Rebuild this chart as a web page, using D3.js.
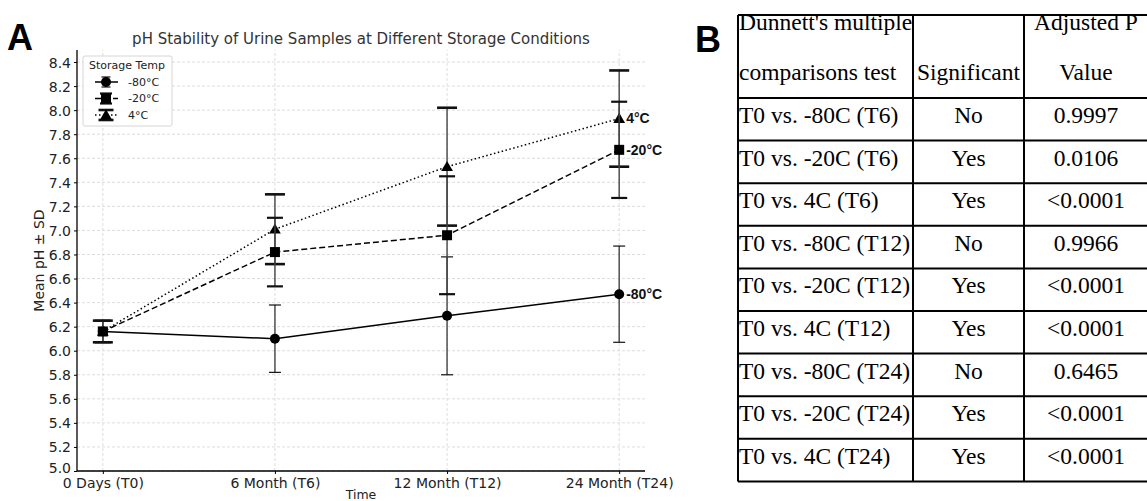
<!DOCTYPE html>
<html>
<head>
<meta charset="utf-8">
<script src="https://cdn.jsdelivr.net/npm/d3@7"></script>
<style>
  body { margin: 0; background: #fff; }
  svg { display: block; }
</style>
</head>
<body>
<svg id="vis" width="1147" height="501"></svg>
<script>
// Data
const timeLabels = ['0 Days (T0)', '6 Month (T6)', '12 Month (T12)', '24 Month (T24)']
const seriesNames = ['-80°C', '-20°C', '4°C']
const meanM80 = [6.16, 6.10, 6.29, 6.47]
const sdM80 = [0.09, 0.28, 0.49, 0.40]
const meanM20 = [6.16, 6.82, 6.96, 7.67]
const sdM20 = [0.09, 0.285, 0.49, 0.40]
const mean4C = [6.16, 7.01, 7.53, 7.93]
const sd4C = [0.09, 0.29, 0.49, 0.40]
const yTicks = [5.0, 5.2, 5.4, 5.6, 5.8, 6.0, 6.2, 6.4, 6.6, 6.8, 7.0, 7.2, 7.4, 7.6, 7.8, 8.0, 8.2, 8.4]

const tableHeader = [["Dunnett's multiple", 'comparisons test'], ['', 'Significant'], ['Adjusted P', 'Value']]
const tableComparisons = ['T0 vs. -80C (T6)', 'T0 vs. -20C (T6)', 'T0 vs. 4C (T6)', 'T0 vs. -80C (T12)', 'T0 vs. -20C (T12)', 'T0 vs. 4C (T12)', 'T0 vs. -80C (T24)', 'T0 vs. -20C (T24)', 'T0 vs. 4C (T24)']
const tableSignificant = ['No', 'Yes', 'Yes', 'No', 'Yes', 'Yes', 'No', 'Yes', 'Yes']
const tablePValues = ['0.9997', '0.0106', '<0.0001', '0.9966', '<0.0001', '<0.0001', '0.6465', '<0.0001', '<0.0001']

const svg = d3.select('#vis')
const sans = 'DejaVu Sans, sans-serif'

// Styles per series
const seriesStyle = {
    '-80°C': { mean: meanM80, sd: sdM80, dash: null, marker: 'circle', cap: 6, capW: 1.2 },
    '-20°C': { mean: meanM20, sd: sdM20, dash: '6,3', marker: 'square', cap: 8, capW: 2.2 },
    '4°C': { mean: mean4C, sd: sd4C, dash: '1.5,2.5', marker: 'triangle', cap: 10, capW: 2.6 }
}

// Scales
const x = d3.scaleLinear().domain([-0.15, 3.15]).range([77, 645])
const y = d3.scaleLinear().domain([5.0, 8.5]).range([471, 50])

// Grid
const grid = svg.append('g')
grid.selectAll('.hg').data(yTicks).enter().append('line')
    .attr('x1', x(-0.15)).attr('x2', x(3.15))
    .attr('y1', d => y(d)).attr('y2', d => y(d))
    .attr('stroke', '#d4d4d4').attr('stroke-width', 0.8).attr('stroke-dasharray', '3,2')
grid.selectAll('.vg').data(timeLabels).enter().append('line')
    .attr('x1', (d, i) => x(i)).attr('x2', (d, i) => x(i))
    .attr('y1', y(5.0)).attr('y2', y(8.5))
    .attr('stroke', '#d4d4d4').attr('stroke-width', 0.8).attr('stroke-dasharray', '3,2')

// Axes
const yAxis = svg.append('g').attr('transform', `translate(${x(-0.15)},0)`)
    .call(d3.axisLeft(y).tickValues(yTicks).tickFormat(d3.format('.1f')).tickSize(3).tickPadding(3))
const xAxis = svg.append('g').attr('transform', `translate(0,${y(5.0)})`)
    .call(d3.axisBottom(x).tickValues([0, 1, 2, 3]).tickFormat(i => timeLabels[i]).tickSize(3).tickPadding(4))
yAxis.select('.domain').attr('d', `M0,${y(8.5)}V${y(5.0)}`).attr('stroke-width', 1.3)
xAxis.select('.domain').attr('d', `M${x(-0.15)},0H${x(3.15)}`).attr('stroke-width', 1.3)
yAxis.attr('font-size', null).attr('font-family', null)
xAxis.attr('font-size', null).attr('font-family', null)
svg.selectAll('.tick text').style('font-family', sans).style('font-size', '14px').attr('fill', '#222')
yAxis.selectAll('.tick text').attr('dy', d => d === 5.0 ? '0.1em' : '0.36em')

// Labels
svg.append('text').attr('x', 361).attr('y', 44).attr('text-anchor', 'middle')
    .attr('font-family', sans).attr('font-size', 15).attr('fill', '#333')
    .text('pH Stability of Urine Samples at Different Storage Conditions')
svg.append('text').attr('x', 361).attr('y', 499).attr('text-anchor', 'middle')
    .attr('font-family', sans).attr('font-size', 12.5).attr('fill', '#222').text('Time')
svg.append('text').attr('transform', `translate(44,${(y(5.0) + y(8.5)) / 2}) rotate(-90)`)
    .attr('text-anchor', 'middle').attr('font-family', sans).attr('font-size', 14).attr('fill', '#222')
    .text('Mean pH ± SD')
svg.append('text').attr('x', 7).attr('y', 50).attr('font-family', 'Liberation Sans, Arial, sans-serif')
    .attr('font-weight', 'bold').attr('font-size', 36).text('A')
svg.append('text').attr('x', 695).attr('y', 52).attr('font-family', 'Liberation Sans, Arial, sans-serif')
    .attr('font-weight', 'bold').attr('font-size', 36).text('B')

// Marker drawing
function drawMarker(g, type, cx, cy) {
    if (type === 'circle') {
        g.append('circle').attr('cx', cx).attr('cy', cy).attr('r', 5).attr('fill', '#000')
    } else if (type === 'square') {
        g.append('rect').attr('x', cx - 5).attr('y', cy - 5).attr('width', 10).attr('height', 10).attr('fill', '#000')
    } else {
        g.append('path').attr('d', d3.symbol(d3.symbolTriangle, 60)()).attr('transform', `translate(${cx},${cy + 1})`).attr('fill', '#000')
    }
}

function drawErrorBar(g, st, cx, m, s) {
    g.append('line').attr('x1', cx).attr('x2', cx).attr('y1', y(m - s)).attr('y2', y(m + s))
        .attr('stroke', '#444').attr('stroke-width', 1.4)
    ;[m - s, m + s].forEach(v => {
        g.append('line').attr('x1', cx - st.cap).attr('x2', cx + st.cap).attr('y1', y(v)).attr('y2', y(v))
            .attr('stroke', '#111').attr('stroke-width', st.capW)
    })
}

// Series, drawn so the square sits on top at T0
const drawOrder = ['4°C', '-80°C', '-20°C']
const line = d3.line().x((d, i) => x(i)).y(d => y(d))
drawOrder.forEach(name => {
    const st = seriesStyle[name]
    const g = svg.append('g')
    st.mean.forEach((m, i) => drawErrorBar(g, st, x(i), m, st.sd[i]))
    g.append('path').datum(st.mean).attr('d', line).attr('fill', 'none')
        .attr('stroke', '#000').attr('stroke-width', 1.5)
        .attr('stroke-dasharray', st.dash)
    st.mean.forEach((m, i) => drawMarker(g, st.marker, x(i), y(m)))
    // End label
    g.append('text').attr('x', x(3) + 7).attr('y', y(st.mean[3])).attr('dy', '0.35em')
        .attr('font-family', 'Liberation Sans, Arial, sans-serif').attr('font-weight', 'bold')
        .attr('font-size', 14).attr('fill', '#111').text(name)
})

// Legend
const lg = svg.append('g')
lg.append('rect').attr('x', 83).attr('y', 56).attr('width', 89).attr('height', 70).attr('rx', 2)
    .attr('fill', '#fff').attr('fill-opacity', 0.85).attr('stroke', '#ccc').attr('stroke-width', 0.8)
lg.append('text').attr('x', 127).attr('y', 69).attr('text-anchor', 'middle')
    .attr('font-family', sans).attr('font-size', 11).attr('fill', '#222').text('Storage Temp')
seriesNames.forEach((name, i) => {
    const st = seriesStyle[name]
    const cy = 82 + i * 16.5
    const cx = 106
    lg.append('line').attr('x1', cx).attr('x2', cx).attr('y1', cy - 5).attr('y2', cy + 5)
        .attr('stroke', '#444').attr('stroke-width', 1.4)
    ;[cy - 5, cy + 5].forEach(v => lg.append('line').attr('x1', cx - st.cap * 0.75).attr('x2', cx + st.cap * 0.75)
        .attr('y1', v).attr('y2', v).attr('stroke', '#111').attr('stroke-width', st.capW))
    lg.append('line').attr('x1', 95).attr('x2', 118).attr('y1', cy).attr('y2', cy)
        .attr('stroke', '#000').attr('stroke-width', 1.5).attr('stroke-dasharray', st.dash)
    drawMarker(lg, st.marker, cx, cy)
    lg.append('text').attr('x', 128).attr('y', cy).attr('dy', '0.35em')
        .attr('font-family', sans).attr('font-size', 11).attr('fill', '#222').text(name)
})

// Table B
const serif = 'Liberation Serif, Times New Roman, serif'
const colX = [738, 913, 1024, 1148]
const headTop = 15, headBottom = 98, rowH = 42.6
const tb = svg.append('g')
const rowsY = d3.range(tableComparisons.length + 1).map(i => headBottom + i * rowH)
tb.append('line').attr('x1', colX[0]).attr('x2', colX[3]).attr('y1', headTop).attr('y2', headTop)
    .attr('stroke', '#000').attr('stroke-width', 2)
rowsY.forEach(ry => tb.append('line').attr('x1', colX[0]).attr('x2', colX[3]).attr('y1', ry).attr('y2', ry)
    .attr('stroke', '#000').attr('stroke-width', 2))
colX.forEach(cx => tb.append('line').attr('x1', cx).attr('x2', cx).attr('y1', headTop).attr('y2', rowsY[rowsY.length - 1])
    .attr('stroke', '#000').attr('stroke-width', 2))

const cellText = (tx, ty, txt, anchor) => tb.append('text').attr('x', tx).attr('y', ty)
    .attr('text-anchor', anchor).attr('font-family', serif).attr('font-size', 23.5).attr('fill', '#000').text(txt)

tableHeader.forEach((lines, c) => {
    const anchor = c === 0 ? 'start' : 'middle'
    const tx = c === 0 ? colX[0] + 1 : (colX[c] + colX[c + 1]) / 2
    cellText(tx, 30, lines[0], anchor)
    cellText(tx, 80, lines[1], anchor)
})
tableComparisons.forEach((comp, r) => {
    const ty = rowsY[r] + 25
    cellText(colX[0] + 1, ty, comp, 'start')
    cellText((colX[1] + colX[2]) / 2, ty, tableSignificant[r], 'middle')
    cellText((colX[2] + colX[3]) / 2, ty, tablePValues[r], 'middle')
})
</script>
</body>
</html>
